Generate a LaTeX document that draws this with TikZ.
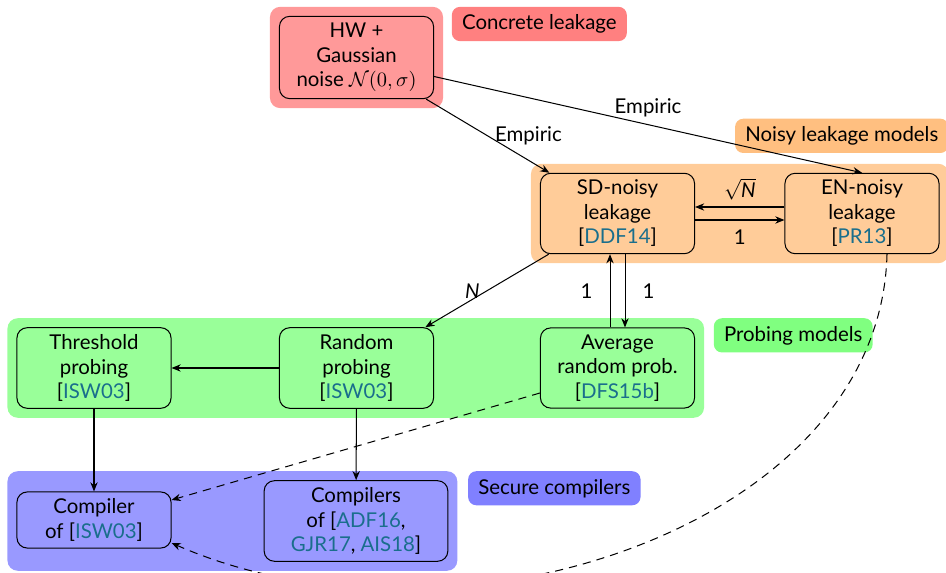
\documentclass[tikz,border=0pt]{standalone}
\usepackage{fontspec}
\setmainfont{Lato}
\usetikzlibrary{arrows.meta,fit,backgrounds,calc}
\definecolor{citec}{RGB}{26,110,140}
\newcommand{\cit}[1]{[\textcolor{citec}{#1}]}
\newcommand{\cc}[1]{\textcolor{citec}{#1}}
\begin{document}
\begin{tikzpicture}[x=0.49pt,y=-0.49pt,
  box/.style={draw, rounded corners=5pt, align=center, minimum width=75.5pt, line width=0.5pt},
  grp/.style={rounded corners=5pt, inner sep=4.4pt},
  lab/.style={rounded corners=4pt, inner xsep=5pt, inner ysep=3.8pt},
  arr/.style={-{Stealth[length=4.5pt,width=3.6pt]}, line width=0.5pt},
  dsh/.style={arr, dash pattern=on 4pt off 3pt}
]
\useasboundingbox (0,0) rectangle (946,573);
\node[box] (hw) at (356.5,57.5) {HW +\\Gaussian\\noise $\mathcal{N}(0,\sigma)$};
\node[box] (sd) at (617.5,213.5) {SD-noisy\\leakage\\\cit{DDF14}};
\node[box] (en) at (862,213.5) {EN-noisy\\leakage\\\cit{PR13}};
\node[box] (th) at (94,368) {Threshold\\probing\\\cit{ISW03}};
\node[box] (rp) at (356.5,368) {Random\\probing\\\cit{ISW03}};
\node[box] (av) at (617.5,368) {Average\\random prob.\\\cit{DFS15b}};
\node[box] (c1) at (94,520) {Compiler\\of \cit{ISW03}};
\node[box, minimum width=90pt] (c2) at (356,521) {Compilers\\of [\cc{ADF16},\\\cc{GJR17}, \cc{AIS18}]};
\begin{scope}[on background layer]
\node[grp, fill=red!40, fit=(hw)] (rbg) {};
\node[grp, fill=orange!40, fit=(sd)(en)] (obg) {};
\node[grp, fill=green!40, fit=(th)(rp)(av)] (gbg) {};
\node[grp, fill=blue!40, fit=(c1)(c2)] (bbg) {};
\end{scope}
\node[lab, fill=red!50, anchor=north west] (rl) at ($(rbg.north east)+(8,0)$) {Concrete leakage};
\node[lab, fill=orange!50, anchor=south east] (ol) at ($(obg.north east)+(0,-10)$) {Noisy leakage models};
\node[lab, fill=green!50, anchor=north west] (gl) at ($(gbg.north east)+(9,0)$) {Probing models};
\node[lab, fill=blue!50, anchor=north west] (bl) at ($(bbg.north east)+(10,0)$) {Secure compilers};
\draw[arr] (hw) -- node[midway, right] {Empiric} (sd);
\draw[arr] ($(hw.east)+(0,19)$) -- node[midway, above] {Empiric} (en.north);
\draw[arr] ($(en.west)+(0,-6.5)$) -- node[above] {$\sqrt{\textit{N}}$} ($(sd.east)+(0,-6.5)$);
\draw[arr] ($(sd.east)+(0,6.5)$) -- node[below=1pt] {1} ($(en.west)+(0,6.5)$);
\draw[arr] (sd) -- node[midway, left] {\textit{N}} (rp);
\draw[arr] ($(av.north)+(-7.5,0)$) -- node[left=5pt] {1} ($(sd.south)+(-7.5,0)$);
\draw[arr] ($(sd.south)+(7.5,0)$) -- node[right=5pt] {1} ($(av.north)+(7.5,0)$);
\draw[arr] (rp) -- (th);
\draw[arr] (th) -- (c1);
\draw[arr] (rp) -- (c2);
\draw[dsh] ($(av.west)+(0,25)$) -- ($(c1.east)+(0,-20)$);
\draw[dsh] ($(en.south)+(25,0)$) .. controls (880,530) and (450,665) .. ($(c1.east)+(0,23)$);
\end{tikzpicture}
\end{document}
